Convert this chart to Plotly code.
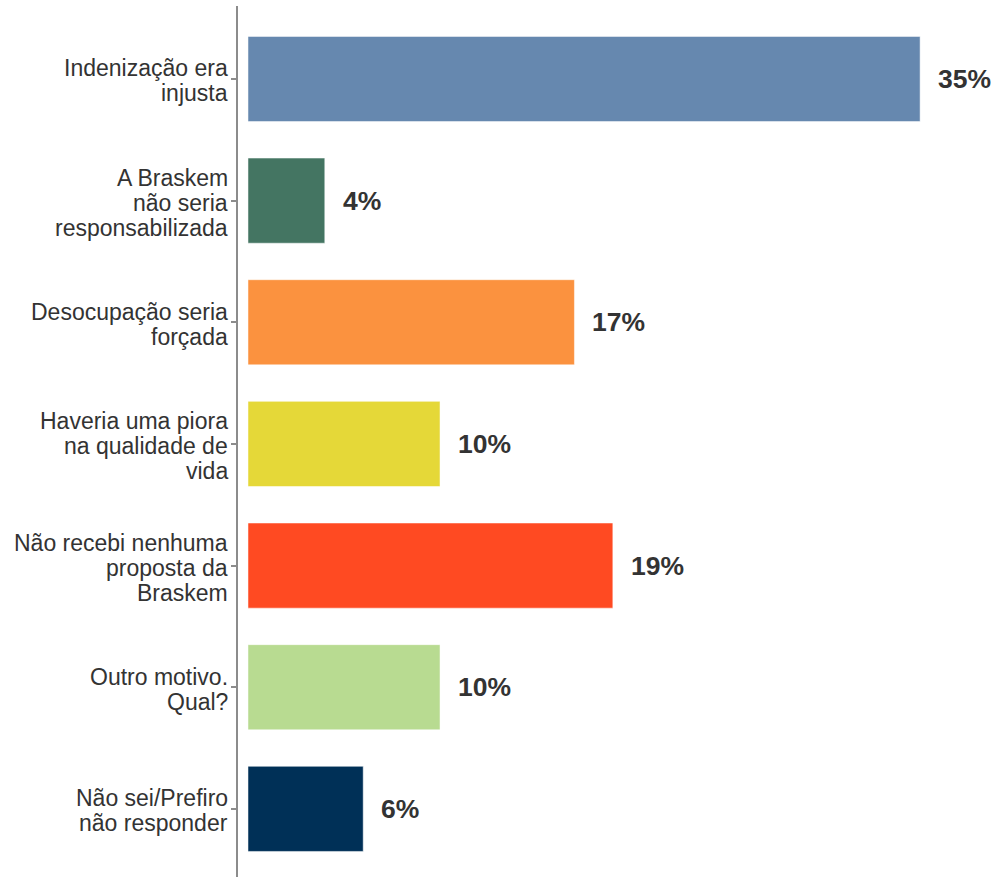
import plotly.graph_objects as go

categories = [
    "Indenização era<br>injusta",
    "A Braskem<br>não seria<br>responsabilizada",
    "Desocupação seria<br>forçada",
    "Haveria uma piora<br>na qualidade de<br>vida",
    "Não recebi nenhuma<br>proposta da<br>Braskem",
    "Outro motivo.<br>Qual?",
    "Não sei/Prefiro<br>não responder",
]
values = [35, 4, 17, 10, 19, 10, 6]
value_labels = ["35%", "4%", "17%", "10%", "19%", "10%", "6%"]
colors = ["#6688AF", "#447562", "#FB923F", "#E5D838", "#FF4A22", "#B8DB91", "#003057"]

FONT = "Liberation Sans, Arial, sans-serif"
LINE_H = 25

fig = go.Figure()
fig.add_trace(go.Bar(
    y=categories, x=values, orientation="h",
    marker=dict(color=colors, line=dict(color="rgba(255,255,255,0.5)", width=1)),
    width=0.7, hoverinfo="skip",
))
for c, v, t in zip(categories, values, value_labels):
    fig.add_annotation(x=v, y=c, text="<b>" + t + "</b>", showarrow=False,
                       xanchor="left", xshift=16,
                       font=dict(family=FONT, size=26.5, color="#333333"))

# category labels, one annotation per line for tighter line spacing
for c in categories:
    lines = c.split("<br>")
    n = len(lines)
    for i, ln in enumerate(lines):
        fig.add_annotation(xref="paper", x=0, y=c, text=ln, showarrow=False,
                           xanchor="right", yanchor="middle", xshift=-8,
                           yshift=((n - 1) / 2 - i) * LINE_H - 2,
                           font=dict(family=FONT, size=23, color="#333333"))

fig.update_layout(
    width=995, height=877,
    margin=dict(l=238, r=0, t=6, b=0),
    plot_bgcolor="white", paper_bgcolor="white",
    showlegend=False,
    font=dict(family=FONT, color="#333333"),
)
fig.update_xaxes(range=[-0.52, 38.9], visible=False, showgrid=False, zeroline=False)
fig.update_yaxes(
    categoryorder="array", categoryarray=categories[::-1],
    range=[-0.56, 6.6],
    showline=True, linecolor="#8c8c8c", linewidth=2,
    ticks="outside", ticklen=5, tickcolor="#8c8c8c", tickwidth=1.5,
    showticklabels=False,
    showgrid=False, zeroline=False,
)
fig.write_html("out.html", config={"displayModeBar": False},
               post_script="document.body.style.margin='0';document.body.style.overflow='hidden';")
